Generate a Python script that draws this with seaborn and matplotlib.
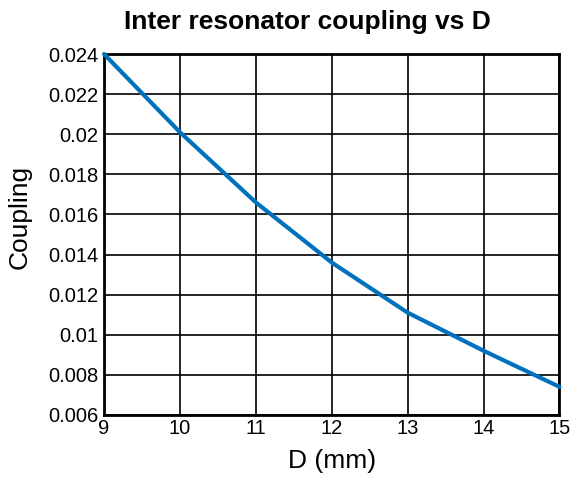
import numpy as np
import pandas as pd
import matplotlib
matplotlib.use("Agg")
import matplotlib.pyplot as plt
import seaborn as sns

# Données
d_mm = [9, 10, 11, 12, 13, 14, 15]
coupling = [0.0240, 0.0201, 0.0166, 0.0136, 0.0111, 0.0092, 0.0074]
x_ticks = [9, 10, 11, 12, 13, 14, 15]
y_ticks = [0.006, 0.008, 0.01, 0.012, 0.014, 0.016, 0.018, 0.02, 0.022, 0.024]
y_labels = ["0.006", "0.008", "0.01", "0.012", "0.014", "0.016", "0.018", "0.02", "0.022", "0.024"]

df = pd.DataFrame({"D": d_mm, "Coupling": coupling})

sns.set_style("white")
plt.rcParams['font.family'] = ['Liberation Sans', 'DejaVu Sans']
plt.rcParams['text.color'] = 'black'
plt.rcParams['axes.labelcolor'] = 'black'
plt.rcParams['xtick.color'] = 'black'
plt.rcParams['ytick.color'] = 'black'

fig = plt.figure(figsize=(5.7, 4.78), dpi=100)
ax = fig.add_axes([0.1825, 0.132, 0.799, 0.755])

sns.lineplot(data=df, x="D", y="Coupling", ax=ax, color="#0072BD", linewidth=3, zorder=3, clip_on=False)

ax.set_xlim(9, 15)
ax.set_ylim(0.006, 0.024)
ax.set_xticks(x_ticks)
ax.set_yticks(y_ticks)
ax.set_yticklabels(y_labels)
ax.grid(True, color="black", linewidth=1.2)
ax.tick_params(axis="both", labelsize=14.5, direction="in", length=0)
ax.tick_params(axis="y", pad=4)
ax.tick_params(axis="x", pad=3)
for s in ax.spines.values():
    s.set_color("black")
    s.set_linewidth(2)

ax.set_xlabel("D (mm)", fontsize=19, labelpad=8)
ax.set_ylabel("Coupling", fontsize=19)
ax.yaxis.set_label_coords(-0.16, 0.548)
fig.text(0.539, 0.955, "Inter resonator coupling vs D", fontsize=19, fontweight="bold",
         ha="center", va="center")

fig.savefig("out.png", dpi=100)
